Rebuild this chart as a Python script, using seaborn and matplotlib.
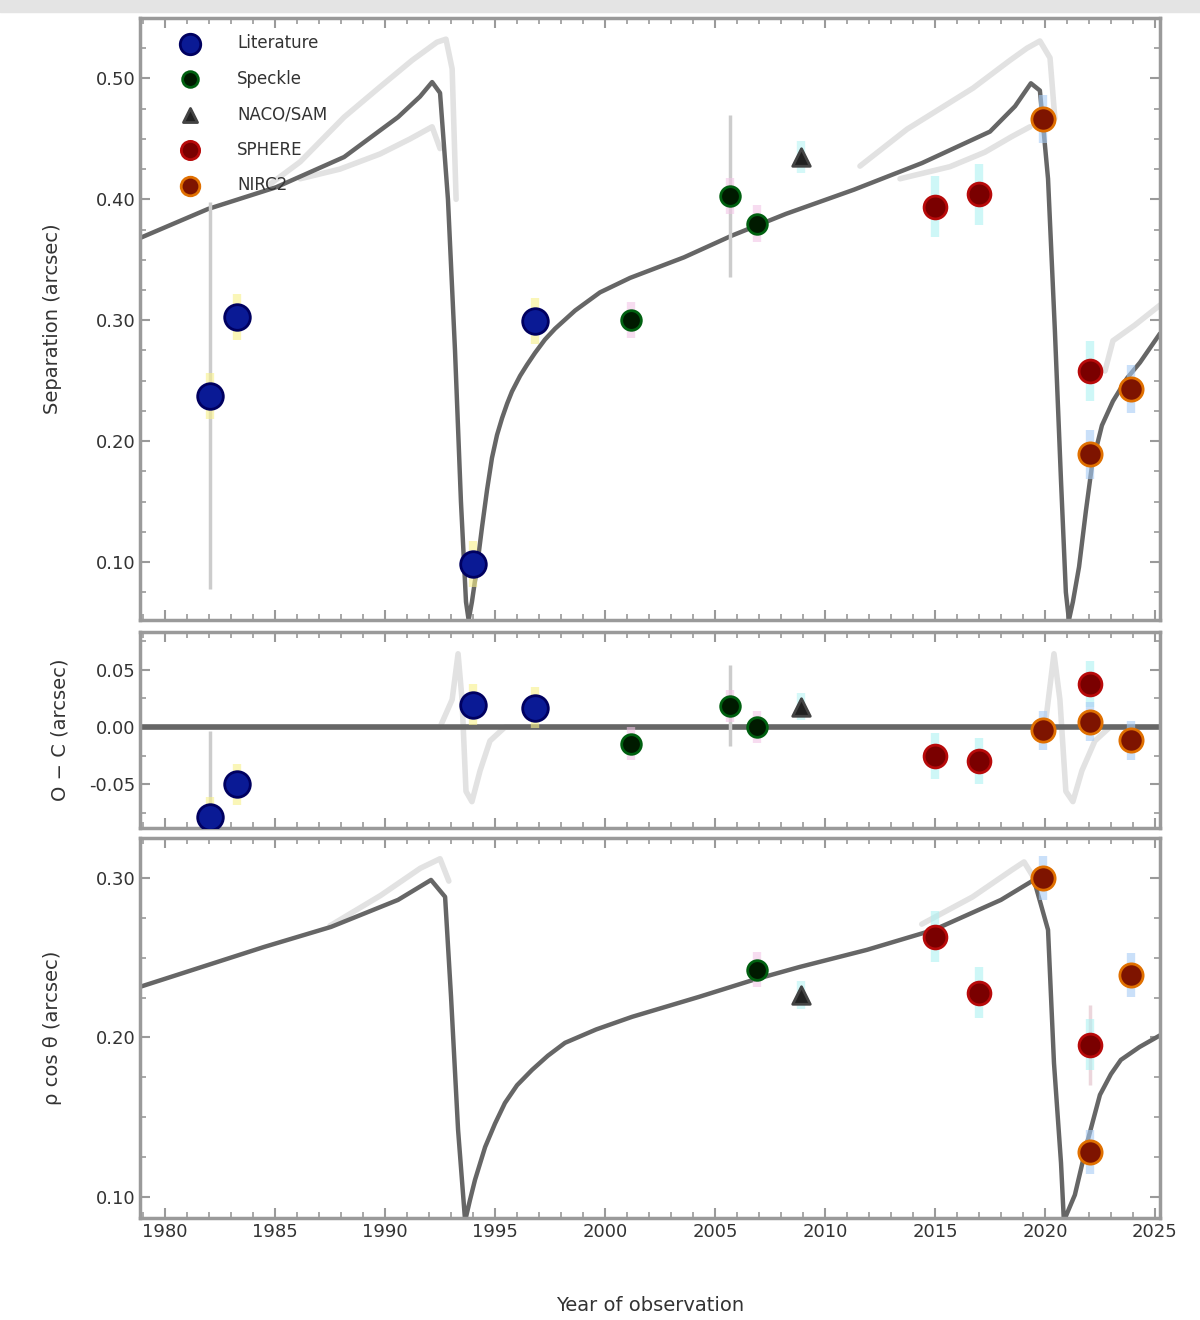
import numpy as np
import pandas as pd
import matplotlib
matplotlib.use("Agg")
import matplotlib.pyplot as plt
from matplotlib.patches import Rectangle
from matplotlib.ticker import MultipleLocator
import seaborn as sns

# ---------------- data ----------------
# model curve, top panel
top_model_year = [1978.86, 1981.95, 1985.05, 1988.14, 1990.59, 1991.59, 1992.14, 1992.5, 1992.86,
                  1993.18, 1993.45, 1993.68, 1993.8, 1993.95, 1994.18, 1994.41, 1994.64, 1994.86,
                  1995.09, 1995.32, 1995.55, 1995.77, 1996.14, 1996.45, 1996.82, 1997.27, 1997.73,
                  1998.64, 1999.77, 2001.14, 2003.59, 2005.77, 2008.23,
                  2011.32, 2014.41, 2017.5, 2018.64, 2019.36, 2019.77, 2020.14, 2020.45, 2020.73,
                  2020.95, 2021.09, 2021.27, 2021.55, 2021.86, 2022.14, 2022.59, 2023.09, 2023.73,
                  2024.32, 2025.23]
top_model_val = [0.368, 0.392, 0.410, 0.435, 0.468, 0.485, 0.497, 0.488, 0.400,
                 0.275, 0.150, 0.067, 0.052, 0.067, 0.096, 0.129, 0.160, 0.186,
                 0.205, 0.219, 0.231, 0.241, 0.254, 0.263, 0.273, 0.284, 0.293,
                 0.308, 0.323, 0.335, 0.352, 0.370, 0.388,
                 0.408, 0.430, 0.456, 0.477, 0.496, 0.490, 0.417, 0.292, 0.167,
                 0.075, 0.052, 0.067, 0.096, 0.142, 0.180, 0.213, 0.233, 0.252,
                 0.265, 0.289]
# light envelope curves, top panel
top_up1_year = [1984.77, 1986.14, 1988.14, 1989.77, 1991.23, 1992.36, 1992.77, 1993.05, 1993.23]
top_up1_val = [0.4125, 0.431, 0.468, 0.493, 0.515, 0.530, 0.5325, 0.508, 0.400]
top_lo1_year = [1986.14, 1987.95, 1989.77, 1991.14, 1992.14, 1992.5]
top_lo1_val = [0.417, 0.425, 0.4375, 0.450, 0.460, 0.442]
top_up2_year = [2011.59, 2013.73, 2015.23, 2016.73, 2018.41, 2019.18, 2019.77, 2020.23, 2020.45]
top_up2_val = [0.4275, 0.458, 0.475, 0.492, 0.515, 0.525, 0.531, 0.517, 0.467]
top_lo2_year = [2013.41, 2015.68, 2017.27, 2018.5, 2019.32]
top_lo2_val = [0.417, 0.427, 0.439, 0.452, 0.460]
top_up3_year = [2022.73, 2023.09, 2024.09, 2025.23]
top_up3_val = [0.258, 0.283, 0.296, 0.3125]

# residual panel curves
mid_model_year = [1978.86, 2025.23]
mid_model_val = [0.0, 0.0]
mid_light_year = [1978.86, 1992.5, 1993.05, 1993.32, 1993.5, 1993.68, 1993.95, 1994.32, 1994.77, 1995.45,
                  2020.0, 2020.41, 2020.68, 2020.95, 2021.27, 2021.68, 2022.27, 2022.95, 2025.23]
mid_light_val = [0.0, 0.0, 0.024, 0.064, 0.024, -0.056, -0.065, -0.038, -0.012, 0.0,
                 0.0, 0.064, 0.024, -0.056, -0.065, -0.038, -0.012, 0.0, 0.0]

# bottom panel curve
bot_model_year = [1978.86, 1984.5, 1987.55, 1990.59, 1992.09, 1992.73, 1993.0, 1993.32, 1993.64,
                  1993.86, 1994.09, 1994.55, 1995.0, 1995.45, 1996.0, 1996.68, 1997.4, 1998.18,
                  1999.6, 2001.23, 2004.27, 2006.73, 2008.86,
                  2011.91, 2014.95, 2018.0, 2019.5, 2020.14, 2020.41, 2020.73, 2020.86, 2021.36,
                  2021.95, 2022.5, 2023.0, 2023.45, 2024.3, 2025.27]
bot_model_val = [0.2317, 0.2567, 0.2693, 0.2862, 0.2987, 0.2881, 0.2254, 0.142, 0.085,
                 0.098, 0.1107, 0.1313, 0.146, 0.1589, 0.170, 0.1796, 0.1885, 0.1966,
                 0.205, 0.2129, 0.2254, 0.236, 0.2442,
                 0.2549, 0.2674, 0.2862, 0.2987, 0.2674, 0.184, 0.1213, 0.085, 0.1013,
                 0.1357, 0.164, 0.177, 0.1859, 0.194, 0.2016]
bot_up1_year = [1987.5, 1989.8, 1991.6, 1992.5, 1992.9]
bot_up1_val = [0.270, 0.289, 0.306, 0.312, 0.298]
bot_up2_year = [2014.4, 2016.7, 2018.5, 2019.05, 2019.5]
bot_up2_val = [0.271, 0.288, 0.305, 0.310, 0.300]

categories = ["Literature", "Speckle", "NACO/SAM", "SPHERE", "NIRC2"]

# observations
lit_year = [1982.05, 1983.27, 1994.0, 1996.8]
lit_top = [0.2375, 0.3025, 0.0983, 0.2992]
lit_mid = [-0.0786, -0.050, 0.0196, 0.017]

spk_year = [2001.2, 2005.7, 2006.9]
spk_top = [0.300, 0.4025, 0.380]
spk_mid = [-0.0143, 0.0188, 0.0]
spk_bot_year = [2006.9]
spk_bot = [0.2423]

sam_year = [2008.9]
sam_top = [0.435]
sam_mid = [0.018]
sam_bot = [0.2266]

sph_year = [2015.0, 2017.0, 2022.05]
sph_top = [0.394, 0.404, 0.258]
sph_mid = [-0.025, -0.0295, 0.0375]
sph_bot = [0.263, 0.228, 0.1953]

nrc_year = [2019.9, 2022.05, 2023.9]
nrc_top = [0.4667, 0.189, 0.243]
nrc_mid = [-0.0027, 0.0045, -0.0116]
nrc_bot = [0.300, 0.1282, 0.2392]

# large error bars (grey)
big_err_year_top = [1982.05, 2005.7]
big_err_val_top = [0.2375, 0.4025]
big_err_top = [0.16, 0.067]
big_err_year_mid = [1982.05, 2005.7]
big_err_val_mid = [-0.0786, 0.0188]
big_err_mid = [0.075, 0.035]
big_err_year_bot = [2022.05]
big_err_val_bot = [0.1953]
big_err_bot = [0.025]

# ---------------- style ----------------
sns.set_theme(style="ticks")
plt.rcParams['font.family'] = ['DejaVu Sans']

fig = plt.figure(figsize=(12, 13.2), dpi=100)
fig.add_artist(Rectangle((0, 1 - 12 / 1320), 1, 12 / 1320, transform=fig.transFigure,
                         color="#e4e4e4", zorder=0))

L, W = 140 / 1200, 1020 / 1200
ax_top = fig.add_axes([L, 1 - 620 / 1320, W, 602 / 1320])
ax_mid = fig.add_axes([L, 1 - 828 / 1320, W, 196 / 1320], sharex=ax_top)
ax_bot = fig.add_axes([L, 1 - 1218 / 1320, W, 380 / 1320], sharex=ax_top)

DARK = "#666666"
LIGHT = "#e2e2e2"
GREYERR = "#cccccc"

styles = {
    "Literature": dict(color="#0a1a95", edgecolor="#000060", s=340, marker="o", halo="#f8f08a"),
    "Speckle": dict(color="#001a00", edgecolor="#006010", s=200, marker="o", halo="#f2c6e6"),
    "NACO/SAM": dict(color="#222222", edgecolor="#444444", s=160, marker="^", halo="#b8f4f4"),
    "SPHERE": dict(color="#7a0000", edgecolor="#b80a0a", s=270, marker="o", halo="#aef2f2"),
    "NIRC2": dict(color="#7e1400", edgecolor="#e07000", s=280, marker="o", halo="#a8ccf5"),
}


def curve(ax, xs, ys, color, lw, z):
    sns.lineplot(x=xs, y=ys, ax=ax, color=color, lw=lw, sort=False, estimator=None, zorder=z,
                 solid_joinstyle="round", solid_capstyle="round")


def points(ax, xs, ys, cat, yerr, label=None):
    st = styles[cat]
    ax.errorbar(xs, ys, yerr=yerr, fmt="none", ecolor=st["halo"], elinewidth=6, alpha=0.6,
                zorder=3)
    sns.scatterplot(x=xs, y=ys, ax=ax, color=st["color"], edgecolor=st["edgecolor"],
                    linewidth=2, s=st["s"], marker=st["marker"], zorder=5, label=label)


# top panel
for xs, ys in [(top_up1_year, top_up1_val), (top_lo1_year, top_lo1_val),
               (top_up2_year, top_up2_val), (top_lo2_year, top_lo2_val),
               (top_up3_year, top_up3_val)]:
    curve(ax_top, xs, ys, LIGHT, 4, 1)
curve(ax_top, top_model_year, top_model_val, DARK, 3.2, 2)
ax_top.errorbar(big_err_year_top, big_err_val_top, yerr=big_err_top, fmt="none",
                ecolor=GREYERR, elinewidth=2.5, zorder=2)
points(ax_top, lit_year, lit_top, "Literature", 0.019, "Literature")
points(ax_top, spk_year, spk_top, "Speckle", 0.015, "Speckle")
points(ax_top, sam_year, sam_top, "NACO/SAM", 0.013, "NACO/SAM")
points(ax_top, sph_year, sph_top, "SPHERE", 0.025, "SPHERE")
points(ax_top, nrc_year, nrc_top, "NIRC2", 0.02, "NIRC2")

# middle panel
curve(ax_mid, mid_light_year, mid_light_val, LIGHT, 4, 1)
curve(ax_mid, mid_model_year, mid_model_val, DARK, 4, 2)
ax_mid.errorbar(big_err_year_mid, big_err_val_mid, yerr=big_err_mid, fmt="none",
                ecolor=GREYERR, elinewidth=2.5, zorder=2)
points(ax_mid, lit_year, lit_mid, "Literature", 0.018)
points(ax_mid, spk_year, spk_mid, "Speckle", 0.014)
points(ax_mid, sam_year, sam_mid, "NACO/SAM", 0.012)
points(ax_mid, sph_year, sph_mid, "SPHERE", 0.02)
points(ax_mid, nrc_year, nrc_mid, "NIRC2", 0.017)

# bottom panel
curve(ax_bot, bot_up1_year, bot_up1_val, LIGHT, 4, 1)
curve(ax_bot, bot_up2_year, bot_up2_val, LIGHT, 4, 1)
curve(ax_bot, bot_model_year, bot_model_val, DARK, 3.2, 2)
ax_bot.errorbar(big_err_year_bot, big_err_val_bot, yerr=big_err_bot, fmt="none",
                ecolor="#ecd6dc", elinewidth=2.5, zorder=2)
points(ax_bot, spk_bot_year, spk_bot, "Speckle", 0.011)
points(ax_bot, sam_year, sam_bot, "NACO/SAM", 0.009)
points(ax_bot, sph_year, sph_bot, "SPHERE", 0.016)
points(ax_bot, nrc_year, nrc_bot, "NIRC2", 0.014)

# axes
ax_top.set_xlim(1978.86, 2025.23)
ax_top.set_ylim(0.052, 0.55)
ax_mid.set_ylim(-0.088, 0.083)
ax_bot.set_ylim(0.0868, 0.325)

ax_top.set_yticks([0.10, 0.20, 0.30, 0.40, 0.50])
ax_mid.set_yticks([-0.05, 0.0, 0.05])
ax_bot.set_yticks([0.10, 0.20, 0.30])
ax_bot.set_xticks(list(range(1980, 2026, 5)))
ax_bot.xaxis.set_minor_locator(MultipleLocator(1))

for ax in (ax_top, ax_mid, ax_bot):
    for sp in ax.spines.values():
        sp.set_color("#9a9a9a")
        sp.set_linewidth(2.5)
    ax.tick_params(which="both", direction="in", top=True, right=True, color="#9a9a9a",
                   labelsize=13, labelcolor="#333333")
    ax.tick_params(which="major", length=7, width=1.5)
    ax.tick_params(which="minor", length=4, width=1.2)
    ax.yaxis.set_major_formatter(matplotlib.ticker.FormatStrFormatter("%.2f"))
    ax.yaxis.set_minor_locator(MultipleLocator(0.025))
for ax in (ax_top, ax_mid):
    ax.tick_params(labelbottom=False)

ax_top.set_ylabel("Separation (arcsec)", fontsize=14, color="#333333", labelpad=24)
ax_mid.set_ylabel("O − C (arcsec)", fontsize=14, color="#333333", labelpad=14)
ax_bot.set_ylabel("ρ cos θ (arcsec)", fontsize=14, color="#333333", labelpad=24)
ax_bot.set_xlabel("Year of observation", fontsize=14, color="#333333", labelpad=40)
fig.align_ylabels([ax_top, ax_mid, ax_bot])

leg = ax_top.legend(loc="upper left", frameon=False, fontsize=12, markerscale=0.8,
                    labelspacing=1.05, handletextpad=1.8, borderaxespad=0.4,
                    bbox_to_anchor=(0.02, 0.995))
for t in leg.get_texts():
    t.set_color("#333333")

fig.savefig("out.png", dpi=100, facecolor="white")
